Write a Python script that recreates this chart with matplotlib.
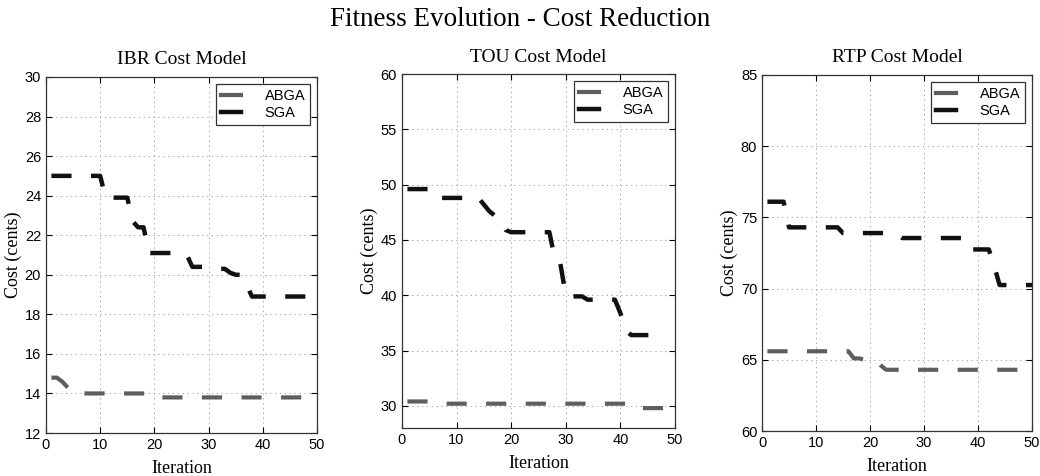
import matplotlib.pyplot as plt
import numpy as np

plt.rcParams['lines.scale_dashes'] = False

# iteration numbers
iters_ibr = np.arange(1, 51)
iters_tou = np.arange(1, 49)
iters_rtp = np.arange(1, 51)

# IBR cost model
ibr_abga = [14.8, 14.8, 14.6, 14.3] + [14.0] * 15 + [13.8] * 29 + [13.6] * 2
ibr_sga = ([25.0] * 10 + [23.9] * 5 + [22.7] + [22.4] * 2 + [21.1] * 6 + [21.0] * 2
           + [20.4] * 3 + [20.3] * 4 + [20.1] + [20.0] + [20.0] + [19.5] + [18.9] * 13)

# TOU cost model
tou_abga = [30.4] * 5 + [30.2] * 36 + [29.8] * 7
tou_sga = ([49.6] * 5 + [48.8] * 9 + [48.2, 47.6, 47.2, 46.9, 45.9] + [45.7] * 8
           + [43.3, 42.9] + [40.0] + [39.9] * 3 + [39.6] * 6 + [38.4, 36.8] + [36.4] * 7)

# RTP cost model
rtp_abga = [65.6] * 16 + [65.1] * 2 + [65.0] * 3 + [64.6] + [64.3] * 28
rtp_sga = ([76.1] * 4 + [74.3] * 10 + [73.9] * 10 + [73.8] + [73.55] * 13
           + [72.75] * 4 + [71.6] + [70.25] * 7)

titles = ['IBR Cost Model', 'TOU Cost Model', 'RTP Cost Model']
ylims = [(12, 30), (28, 60), (60, 85)]
yticks = [np.arange(12, 31, 2), np.arange(30, 61, 5), np.arange(60, 86, 5)]
positions = [[0.0442, 0.0903, 0.2606, 0.748],
             [0.3865, 0.1008, 0.2625, 0.7437],
             [0.7327, 0.0945, 0.2596, 0.748]]
data = [(iters_ibr, ibr_abga, ibr_sga), (iters_tou, tou_abga, tou_sga),
        (iters_rtp, rtp_abga, rtp_sga)]

serif = 'Liberation Serif'
sans = 'Liberation Sans'

fig = plt.figure(figsize=(10.4, 4.76), dpi=100)
fig.suptitle('Fitness Evolution - Cost Reduction', family=serif, fontsize=19.5, y=0.985)

for i in range(3):
    ax = fig.add_axes(positions[i])
    x, a, s = data[i]
    ax.plot(x, a, color='#5e5e5e', lw=3, dashes=(14.5, 14), label='ABGA')
    ax.plot(x, s, color='#111111', lw=3.2, dashes=(14.5, 14), label='SGA')
    ax.set_xlim(0, 50)
    ax.set_ylim(*ylims[i])
    ax.set_xticks(np.arange(0, 51, 10))
    ax.set_yticks(yticks[i])
    ax.grid(True, linestyle=(0, (1, 2.5)), color='#aaaaaa', linewidth=0.7)
    ax.tick_params(direction='in', top=True, right=True, labelsize=10.5, length=4)
    for lab in ax.get_xticklabels() + ax.get_yticklabels():
        lab.set_family(sans)
    for sp in ax.spines.values():
        sp.set_color('#333333')
        sp.set_linewidth(0.9)
    ax.set_title(titles[i], family=serif, fontsize=14, pad=9)
    ax.set_xlabel('Iteration', family=serif, fontsize=13, labelpad=6)
    ax.set_ylabel('Cost (cents)', family=serif, fontsize=13, labelpad=2)
    leg = ax.legend(loc='upper right', prop={'family': sans, 'size': 10.5},
                    handlelength=1.4, handletextpad=1.6, fancybox=False,
                    framealpha=1, edgecolor='#333333', borderpad=0.35,
                    labelspacing=0.25, borderaxespad=0.45)
    leg.get_frame().set_linewidth(0.9)
    for h in leg.get_lines():
        h.set_linestyle('-')

plt.savefig('out.png', dpi=100)
